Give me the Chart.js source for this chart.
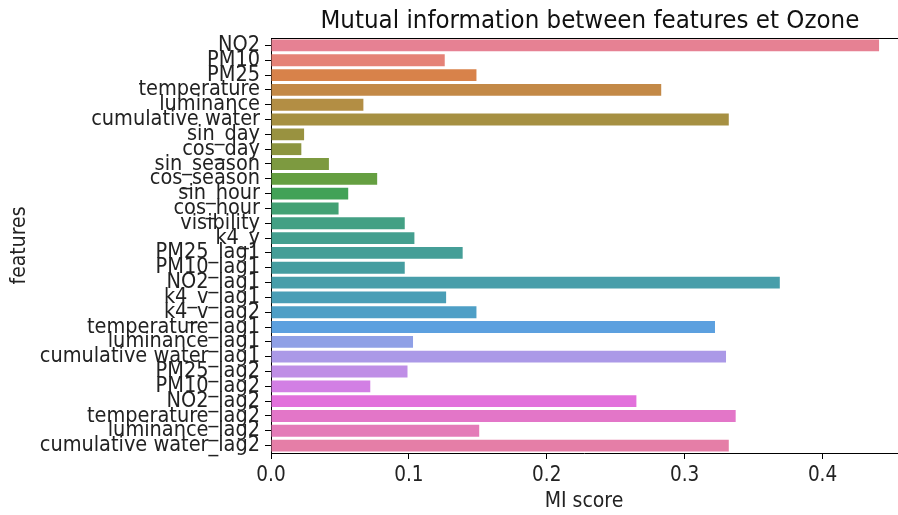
<!DOCTYPE html>
<html>
<head>
<meta charset="utf-8">
<script src="https://cdn.jsdelivr.net/npm/chart.js@4"></script>
<style>
  html, body { margin: 0; padding: 0; background: #fff; }
  #wrap { width: 898px; height: 515px; }
</style>
</head>
<body>
<div id="wrap"><canvas id="miChart" width="898" height="515"></canvas></div>
<script>
const features = [
  "NO2", "PM10", "PM25", "temperature", "luminance", "cumulative water",
  "sin_day", "cos_day", "sin_season", "cos_season", "sin_hour", "cos_hour",
  "visibility", "k4_y", "PM25_lag1", "PM10_lag1", "NO2_lag1", "k4_v_lag1",
  "k4_v_lag2", "temperature_lag1", "luminance_lag1", "cumulative water_lag1",
  "PM25_lag2", "PM10_lag2", "NO2_lag2", "temperature_lag2", "luminance_lag2",
  "cumulative water_lag2",
];
const miScores = [
  0.441, 0.126, 0.149, 0.283, 0.067, 0.332,
  0.024, 0.022, 0.042, 0.077, 0.056, 0.049,
  0.097, 0.104, 0.139, 0.097, 0.369, 0.127,
  0.149, 0.322, 0.103, 0.330,
  0.099, 0.072, 0.265, 0.337, 0.151,
  0.332,
];
const xTicks = [0.0, 0.1, 0.2, 0.3, 0.4];

// seaborn husl palette + barplot desaturation (0.75)
const M = [
  [3.240969941904521, -1.537383177570093, -0.498610760293],
  [-0.96924363628087, 1.87596750150772, 0.041555057407175],
  [0.055630079696993, -0.20397695888897, 1.056971514242878],
];
const refU = 0.19783000664283, refV = 0.46831999493879, kappa = 903.2962962, epsilon = 0.0088564516;

function maxChroma(L, H) {
  const hrad = H / 180 * Math.PI;
  const sinH = Math.sin(hrad), cosH = Math.cos(hrad);
  const sub1 = Math.pow(L + 16, 3) / 1560896;
  const sub2 = sub1 > 0.008856 ? sub1 : L / 903.3;
  let result = Infinity;
  for (const [m1, m2, m3] of M) {
    const top = (0.99915 * m1 + 1.05122 * m2 + 1.1446 * m3) * sub2;
    const rbottom = 0.8633 * m3 - 0.17266 * m2;
    const lbottom = 0.12949 * m3 - 0.38848 * m1;
    const bottom = (rbottom * sinH + lbottom * cosH) * sub2;
    for (const t of [0, 1]) {
      const C = L * (top - 1.05122 * t) / (bottom + 0.17266 * sinH * t);
      if (C > 0 && C < result) result = C;
    }
  }
  return result;
}

function huslToRgb(H, S, L) {
  const C = maxChroma(L, H) / 100 * S;
  const hrad = H / 180 * Math.PI;
  const U = Math.cos(hrad) * C, V = Math.sin(hrad) * C;
  const t = (L + 16) / 116;
  const varY = Math.pow(t, 3) > epsilon ? Math.pow(t, 3) : (116 * t - 16) / kappa;
  const varU = U / (13 * L) + refU;
  const varV = V / (13 * L) + refV;
  const Y = varY;
  const X = 0 - (9 * Y * varU) / ((varU - 4) * varV - varU * varV);
  const Z = (9 * Y - 15 * varV * Y - varV * X) / (3 * varV);
  return M.map(r => {
    const c = r[0] * X + r[1] * Y + r[2] * Z;
    const v = c <= 0.0031308 ? 12.92 * c : 1.055 * Math.pow(c, 1 / 2.4) - 0.055;
    return Math.min(1, Math.max(0, v));
  });
}

function rgbToHls(r, g, b) {
  const maxc = Math.max(r, g, b), minc = Math.min(r, g, b);
  const l = (minc + maxc) / 2;
  if (minc === maxc) return [0, l, 0];
  const s = l <= 0.5 ? (maxc - minc) / (maxc + minc) : (maxc - minc) / (2 - maxc - minc);
  const rc = (maxc - r) / (maxc - minc), gc = (maxc - g) / (maxc - minc), bc = (maxc - b) / (maxc - minc);
  let h;
  if (r === maxc) h = bc - gc;
  else if (g === maxc) h = 2 + rc - bc;
  else h = 4 + gc - rc;
  h = ((h / 6) % 1 + 1) % 1;
  return [h, l, s];
}

function hlsToRgb(h, l, s) {
  if (s === 0) return [l, l, l];
  const m2 = l <= 0.5 ? l * (1 + s) : l + s - l * s;
  const m1 = 2 * l - m2;
  const v = (hue) => {
    hue = ((hue % 1) + 1) % 1;
    if (hue < 1 / 6) return m1 + (m2 - m1) * hue * 6;
    if (hue < 0.5) return m2;
    if (hue < 2 / 3) return m1 + (m2 - m1) * (2 / 3 - hue) * 6;
    return m1;
  };
  return [v(h + 1 / 3), v(h), v(h - 1 / 3)];
}

function palette(n) {
  const out = [];
  for (let i = 0; i < n; i++) {
    const h = ((i / n + 0.01) % 1) * 359;
    const rgb = huslToRgb(h, 0.9 * 99, 0.65 * 99);
    const [hh, ll, ss] = rgbToHls(...rgb);
    const d = hlsToRgb(hh, ll, ss * 0.75);
    out.push(`rgb(${d.map(c => Math.round(c * 255)).join(",")})`);
  }
  return out;
}

const barColors = palette(features.length);
const FAMILY = "'DejaVu Sans Condensed', 'DejaVu Sans', sans-serif";

const frame = {
  id: "frame",
  afterDraw(chart) {
    const { ctx, chartArea } = chart;
    const x = chart.scales.x;
    ctx.save();
    ctx.strokeStyle = "#000";
    ctx.lineWidth = 1;
    ctx.beginPath();
    ctx.moveTo(chartArea.left, chartArea.top + 0.5);
    ctx.lineTo(chartArea.right + 2, chartArea.top + 0.5);
    ctx.stroke();
    // title centred over the full (cropped) axes
    const cx = (x.getPixelForValue(0) + x.getPixelForValue(0.4626)) / 2;
    ctx.fillStyle = "#111";
    ctx.font = "25.6px " + FAMILY;
    ctx.textAlign = "center";
    ctx.textBaseline = "alphabetic";
    ctx.fillText("Mutual information between features et Ozone", cx, 28);
    ctx.restore();
  },
};

new Chart(document.getElementById("miChart"), {
  type: "bar",
  data: {
    labels: features,
    datasets: [
      {
        label: "MI score",
        data: miScores,
        backgroundColor: barColors,
        borderWidth: 0,
        categoryPercentage: 0.8,
        barPercentage: 1.0,
      },
    ],
  },
  options: {
    indexAxis: "y",
    responsive: false,
    animation: false,
    layout: { padding: { top: 38, right: 1, left: 0, bottom: 0 } },
    scales: {
      x: {
        min: 0,
        max: 0.454,
        afterBuildTicks: (s) => { s.ticks = xTicks.map(v => ({ value: v })); },
        afterFit: (s) => { s.height = 62; },
        ticks: {
          color: "#222",
          font: { family: FAMILY, size: 20.5 },
          padding: 4,
          callback: (v) => Number(v).toFixed(1),
        },
        grid: {
          display: true,
          drawOnChartArea: false,
          drawTicks: true,
          tickLength: 6,
          tickColor: "#000",
        },
        border: { display: true, color: "#000", width: 1 },
        title: {
          display: true,
          text: "MI score",
          color: "#222",
          font: { family: FAMILY, size: 21 },
          padding: { top: 0, bottom: 1 },
        },
      },
      y: {
        afterFit: (s) => { s.width = 271; },
        ticks: {
          autoSkip: false,
          color: "#222",
          font: { family: FAMILY, size: 21.5 },
          padding: 5,
        },
        grid: {
          display: true,
          offset: false,
          drawOnChartArea: false,
          drawTicks: true,
          tickLength: 6,
          tickColor: "#000",
        },
        border: { display: true, color: "#000", width: 1 },
        title: {
          display: true,
          text: "features",
          color: "#222",
          font: { family: FAMILY, size: 21 },
          padding: { top: 7, bottom: 0 },
        },
      },
    },
    plugins: {
      legend: { display: false },
      title: { display: false },
      tooltip: { enabled: false },
    },
  },
  plugins: [frame],
});
</script>
</body>
</html>
